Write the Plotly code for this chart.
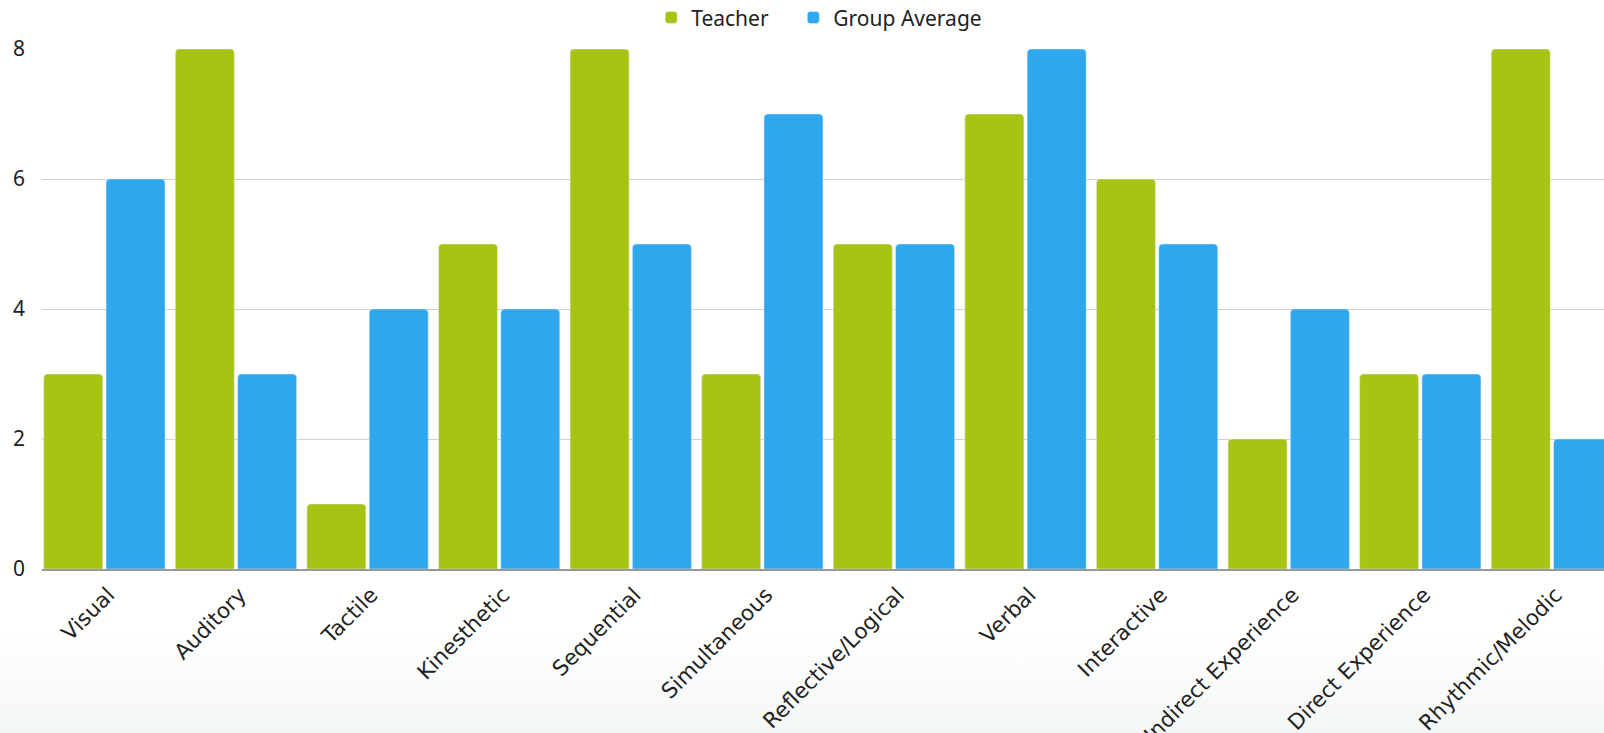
import base64
import plotly.graph_objects as go

categories = ["Visual", "Auditory", "Tactile", "Kinesthetic", "Sequential", "Simultaneous",
              "Reflective/Logical", "Verbal", "Interactive", "Indirect Experience",
              "Direct Experience", "Rhythmic/Melodic"]
teacher = [3, 8, 1, 5, 8, 3, 5, 7, 6, 2, 3, 8]
group_average = [6, 3, 4, 4, 5, 7, 5, 8, 5, 4, 3, 2]
y_ticks = [0, 2, 4, 6, 8]

GREEN = "#a7c414"
BLUE = "#2ea7ec"

fig = go.Figure()
fig.add_trace(go.Bar(name="Teacher", x=categories, y=teacher, marker_color=GREEN, legend="legend"))
fig.add_trace(go.Bar(name="Group Average", x=categories, y=group_average, marker_color=BLUE,
                     legend="legend2"))

svg = ('<svg xmlns="http://www.w3.org/2000/svg" width="100" height="100" preserveAspectRatio="none">'
       '<defs><linearGradient id="g" x1="0" y1="0" x2="0" y2="1">'
       '<stop offset="0" stop-color="#ffffff"/><stop offset="1" stop-color="#f3f6f6"/>'
       '</linearGradient></defs><rect width="100" height="100" fill="url(#g)"/></svg>')
src = "data:image/svg+xml;base64," + base64.b64encode(svg.encode()).decode()

leg_font = dict(size=21, family="Noto Sans", color="#222222")

fig.update_layout(
    width=1604, height=733,
    margin=dict(l=42, r=0, t=49, b=164, autoexpand=False),
    paper_bgcolor="white", plot_bgcolor="rgba(0,0,0,0)",
    barmode="group", bargap=0.053, bargroupgap=0.053, barcornerradius=4,
    font=dict(family="Noto Sans", color="#222222"),
    showlegend=True,
    legend=dict(orientation="h", x=0.39, xanchor="left", y=1.06, yanchor="middle",
                font=leg_font, itemwidth=30),
    legend2=dict(orientation="h", x=0.481, xanchor="left", y=1.06, yanchor="middle",
                 font=leg_font, itemwidth=30),
    xaxis=dict(range=[-0.474, 11.396], tickangle=-45, showgrid=False,
               tickfont=dict(size=21.5, family="DejaVu Sans", color="#222222"),
               ticklabelshift=4, ticklabelstandoff=3,
               showline=True, linecolor="#999999", linewidth=1.5, ticks=""),
    yaxis=dict(range=[0, 8], tickvals=y_ticks, showgrid=True, gridcolor="#d0d0d0", gridwidth=1,
               zeroline=False, tickfont=dict(size=21, family="Noto Sans", color="#222222"),
               ticklabelstandoff=16),
    images=[dict(source=src, xref="paper", yref="paper", x=-0.03, y=-0.12, sizex=1.1, sizey=0.21,
                 xanchor="left", yanchor="top", sizing="stretch", layer="below")],
)

fig.write_html("out.html", config={"displayModeBar": False},
               post_script="document.body.style.margin='0';document.body.style.overflow='hidden';")
